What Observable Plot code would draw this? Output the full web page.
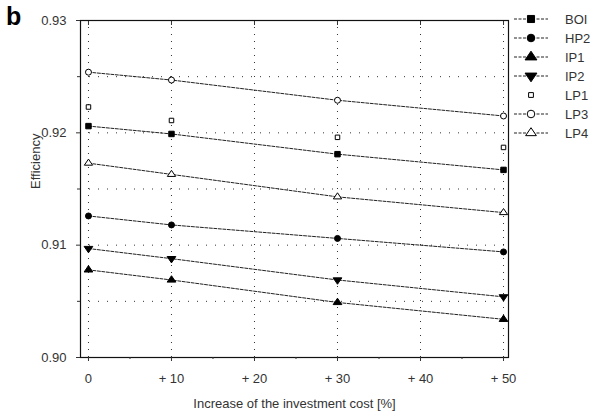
<!DOCTYPE html>
<html>
<head>
<meta charset="utf-8">
<script src="https://cdn.jsdelivr.net/npm/d3@7"></script>
<script src="https://cdn.jsdelivr.net/npm/@observablehq/plot@0.6"></script>
<style>
  html, body { margin: 0; padding: 0; background: #fff; }
  #wrap { position: relative; width: 613px; height: 420px; font-family: "Liberation Sans", Arial, sans-serif; }
  #chart { position: absolute; left: 0; top: 0; }
  #legend { position: absolute; left: 0; top: 0; }
</style>
</head>
<body>
<div id="wrap">
  <div id="chart"></div>
  <svg id="legend" width="613" height="420"></svg>
</div>
<script>
// ---- data ----
const costIncrease = [0, 10, 30, 50];
const seriesNames = ["BOI", "HP2", "IP1", "IP2", "LP1", "LP3", "LP4"];
const BOI = [0.9206, 0.9199, 0.9181, 0.9167];
const HP2 = [0.9126, 0.9118, 0.9106, 0.9094];
const IP1 = [0.9078, 0.9069, 0.9049, 0.9034];
const IP2 = [0.9097, 0.9088, 0.9069, 0.9054];
const LP1 = [0.9223, 0.9211, 0.9196, 0.9187];
const LP3 = [0.9254, 0.9247, 0.9229, 0.9215];
const LP4 = [0.9173, 0.9163, 0.9143, 0.9129];
const xTicks = [0, 10, 20, 30, 40, 50];
const xTickLabels = ["0", "+ 10", "+ 20", "+ 30", "+ 40", "+ 50"];
const xMinorTicks = [5, 15, 25, 35, 45];
const yTicks = [0.90, 0.91, 0.92, 0.93];
const yTickLabels = ["0.90", "0.91", "0.92", "0.93"];
const yMinorTicks = [0.905, 0.915, 0.925];
const yGrid = [0.905, 0.91, 0.915, 0.92, 0.925];
const xLabel = "Increase of the investment cost [%]";
const yLabel = "Efficiency";
const panelLabel = "b";

const valuesBySeries = {BOI, HP2, IP1, IP2, LP1, LP3, LP4};
const withLine = ["BOI", "HP2", "IP1", "IP2", "LP3", "LP4"];
const filled = ["BOI", "HP2", "IP1", "IP2"];

const rows = seriesNames.flatMap(s => valuesBySeries[s].map((v, i) => ({series: s, x: costIncrease[i], y: v})));

const triangleDown = {
  draw(context, size) {
    const y = -Math.sqrt(size / (3 * Math.sqrt(3)));
    context.moveTo(0, -y * 2 * 0.85);
    context.lineTo(-Math.sqrt(3) * y, y * 0.85);
    context.lineTo(Math.sqrt(3) * y, y * 0.85);
    context.closePath();
  }
};
const triangleUp = {
  draw(context, size) {
    const y = -Math.sqrt(size / (3 * Math.sqrt(3)));
    context.moveTo(0, y * 2 * 0.85);
    context.lineTo(-Math.sqrt(3) * y, -y * 0.85);
    context.lineTo(Math.sqrt(3) * y, -y * 0.85);
    context.closePath();
  }
};
const symbolRange = [d3.symbolSquare, d3.symbolCircle, triangleUp, triangleDown, d3.symbolSquare, d3.symbolCircle, triangleUp];
const sizeBy = {BOI: 4.0, HP2: 3.8, IP1: 4.4, IP2: 4.4, LP1: 2.7, LP3: 3.8, LP4: 4.0};

const chart = Plot.plot({
  width: 613,
  height: 420,
  marginLeft: 80,
  marginRight: 105,
  marginTop: 20,
  marginBottom: 63,
  style: {fontFamily: "'Liberation Sans', Arial, sans-serif", fontSize: "13px", color: "#333", background: "transparent"},
  x: {domain: [-0.96, 50.6]},
  y: {domain: [0.90, 0.93]},
  symbol: {domain: seriesNames, range: symbolRange},
  marks: [
    Plot.gridX(xTicks, {stroke: "#000", strokeOpacity: 0.8, strokeDasharray: "1,6", strokeWidth: 1}),
    Plot.gridY(yGrid, {stroke: "#000", strokeOpacity: 0.8, strokeDasharray: "1,8", strokeWidth: 1}),
    Plot.frame({stroke: "#111", strokeWidth: 1.2}),
    Plot.axisY(yTicks, {tickSize: 4, tickPadding: 10, tickFormat: (d, i) => yTickLabels[i], label: null}),
    Plot.axisY(yMinorTicks, {tickSize: 3, tickFormat: () => "", label: null}),
    Plot.axisX(xTicks, {tickSize: 4, tickPadding: 12, tickFormat: (d, i) => xTickLabels[i], label: null}),
    Plot.axisX(xMinorTicks, {tickSize: 2, tickFormat: () => "", label: null}),
    Plot.axisX(xTicks, {anchor: "top", tickSize: -4, tickFormat: () => "", label: null}),
    Plot.text([yLabel], {frameAnchor: "left", dx: -45, rotate: -90, fontSize: 13, fill: "#333"}),
    Plot.text([xLabel], {frameAnchor: "bottom", dy: 50, fontSize: 13, fill: "#333"}),
    Plot.line(rows.filter(d => withLine.includes(d.series)), {x: "x", y: "y", z: "series", stroke: "#222", strokeWidth: 1, strokeDasharray: "3,1.5"}),
    Plot.dot(rows, {x: "x", y: "y", symbol: "series",
      r: d => sizeBy[d.series],
      fill: d => filled.includes(d.series) ? "#000" : "#fff",
      stroke: "#000", strokeWidth: 1})
  ]
});
document.getElementById("chart").appendChild(chart);

// ---- legend and panel letter ----
const leg = d3.select("#legend");
leg.append("text").attr("x", 6).attr("y", 25).attr("font-family", "'Liberation Sans', Arial, sans-serif")
  .attr("font-size", 25).attr("font-weight", "bold").attr("fill", "#000").text(panelLabel);
const legX0 = 514, legX1 = 548, legMark = 531, legText = 565, legY0 = 19, legStep = 19;
seriesNames.forEach((s, i) => {
  const y = legY0 + i * legStep;
  const g = leg.append("g");
  if (withLine.includes(s)) {
    g.append("line").attr("x1", legX0).attr("x2", legX1).attr("y1", y).attr("y2", y)
      .attr("stroke", "#222").attr("stroke-width", 1).attr("stroke-dasharray", "3,1.5");
  }
  const r = sizeBy[s];
  g.append("path").attr("transform", `translate(${legMark},${y})`)
    .attr("d", d3.symbol(symbolRange[i], Math.PI * r * r)())
    .attr("fill", filled.includes(s) ? "#000" : "#fff").attr("stroke", "#000");
  g.append("text").attr("x", legText).attr("y", y).attr("dy", "0.35em")
    .attr("font-family", "'Liberation Sans', Arial, sans-serif").attr("font-size", 13).attr("fill", "#333").text(s);
});
</script>
</body>
</html>
